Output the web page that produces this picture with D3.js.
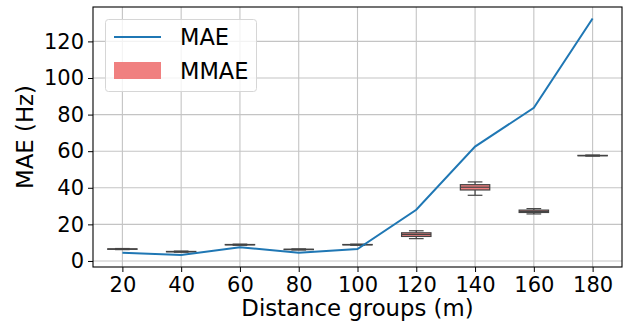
<!DOCTYPE html>
<html>
<head>
<meta charset="utf-8">
<script src="https://cdn.jsdelivr.net/npm/d3@7"></script>
<style>
  body { margin: 0; background: #fff; }
  svg { display: block; font-family: "DejaVu Sans", sans-serif; }
</style>
</head>
<body>
<svg id="chart" width="627" height="327"></svg>
<script>
// data
const groups = ["20", "40", "60", "80", "100", "120", "140", "160", "180"];
const mae = [4.5, 3.3, 7.5, 4.5, 6.5, 28, 62.5, 83.7, 132.5];
// MMAE box stats per group
const whiskLo = [6.2, 4.8, 8.6, 6.0, 8.6, 12.2, 35.9, 25.7, 57.3];
const q1 =      [6.4, 5.0, 8.8, 6.2, 8.8, 13.4, 38.8, 26.5, 57.5];
const median =  [6.5, 5.1, 8.9, 6.3, 8.9, 14.5, 40.3, 27.1, 57.6];
const q3 =      [6.6, 5.2, 9.0, 6.4, 9.0, 15.4, 41.7, 27.8, 57.7];
const whiskHi = [6.8, 5.4, 9.2, 6.6, 9.2, 16.5, 43.2, 28.6, 57.9];
const yTicks = [0, 20, 40, 60, 80, 100, 120];

const width = 627, height = 327;
const margin = { top: 7, right: 5, bottom: 60, left: 93 };

const $svg = d3.select("#chart");

const x = d3.scalePoint()
    .domain(groups)
    .range([margin.left, width - margin.right])
    .padding(0.5);

const y = d3.scaleLinear()
    .domain([-3.3, 138.8])
    .range([height - margin.bottom, margin.top]);

const boxW = x.step() * 0.5;

// Grid
const $grid = $svg.append("g");
$grid.selectAll(".gx")
  .data(groups)
  .join("line")
    .attr("x1", d => x(d)).attr("x2", d => x(d))
    .attr("y1", margin.top).attr("y2", height - margin.bottom)
    .attr("stroke", "#c4c4c4").attr("stroke-width", 1.1);
$grid.selectAll(".gy")
  .data(yTicks)
  .join("line")
    .attr("y1", d => y(d)).attr("y2", d => y(d))
    .attr("x1", margin.left).attr("x2", width - margin.right)
    .attr("stroke", "#c4c4c4").attr("stroke-width", 1.1);

// Boxes
const boxes = groups.map((g, i) => ({
    g, lo: whiskLo[i], q1: q1[i], med: median[i], q3: q3[i], hi: whiskHi[i]
}));
const $box = $svg.append("g").selectAll("g")
  .data(boxes)
  .join("g");

const edge = "#444";
$box.append("line") // lower whisker
    .attr("x1", d => x(d.g)).attr("x2", d => x(d.g))
    .attr("y1", d => y(d.lo)).attr("y2", d => y(d.q1))
    .attr("stroke", edge).attr("stroke-width", 1.2);
$box.append("line") // upper whisker
    .attr("x1", d => x(d.g)).attr("x2", d => x(d.g))
    .attr("y1", d => y(d.hi)).attr("y2", d => y(d.q3))
    .attr("stroke", edge).attr("stroke-width", 1.2);
$box.append("line") // caps
    .attr("x1", d => x(d.g) - boxW / 4).attr("x2", d => x(d.g) + boxW / 4)
    .attr("y1", d => y(d.lo)).attr("y2", d => y(d.lo))
    .attr("stroke", edge).attr("stroke-width", 1.2);
$box.append("line")
    .attr("x1", d => x(d.g) - boxW / 4).attr("x2", d => x(d.g) + boxW / 4)
    .attr("y1", d => y(d.hi)).attr("y2", d => y(d.hi))
    .attr("stroke", edge).attr("stroke-width", 1.2);
$box.append("rect")
    .attr("x", d => x(d.g) - boxW / 2)
    .attr("width", boxW)
    .attr("y", d => y(d.q3))
    .attr("height", d => y(d.q1) - y(d.q3))
    .attr("fill", "#f08080")
    .attr("stroke", edge).attr("stroke-width", 1.2);
$box.append("line") // median
    .attr("x1", d => x(d.g) - boxW / 2).attr("x2", d => x(d.g) + boxW / 2)
    .attr("y1", d => y(d.med)).attr("y2", d => y(d.med))
    .attr("stroke", edge).attr("stroke-width", 1.2);

// MAE line
const line = d3.line()
    .x((d, i) => x(groups[i]))
    .y(d => y(d));
$svg.append("path")
    .datum(mae)
    .attr("d", line)
    .attr("fill", "none")
    .attr("stroke", "#1f77b4")
    .attr("stroke-width", 2);

// Axes
const xAxis = d3.axisBottom(x).tickSize(5).tickPadding(5);
const yAxis = d3.axisLeft(y).tickValues(yTicks).tickSize(5).tickPadding(4);

const $xAxis = $svg.append("g")
    .attr("transform", `translate(0,${height - margin.bottom})`)
    .call(xAxis);
const $yAxis = $svg.append("g")
    .attr("transform", `translate(${margin.left},0)`)
    .call(yAxis);
[$xAxis, $yAxis].forEach($a => {
    $a.select(".domain").remove();
    $a.selectAll("text")
      .attr("font-family", "DejaVu Sans, sans-serif")
      .attr("font-size", 21)
      .attr("fill", "#000");
    $a.selectAll(".tick line").attr("stroke", "#000").attr("stroke-width", 1);
});

// Frame
$svg.append("rect")
    .attr("x", margin.left).attr("y", margin.top)
    .attr("width", width - margin.left - margin.right)
    .attr("height", height - margin.top - margin.bottom)
    .attr("fill", "none")
    .attr("stroke", "#000").attr("stroke-width", 1.1);

// Labels
$svg.append("text")
    .attr("x", (margin.left + width - margin.right) / 2)
    .attr("y", 316)
    .attr("text-anchor", "middle")
    .attr("font-size", 22.8)
    .text("Distance groups (m)");
$svg.append("text")
    .attr("transform", `translate(33,${(margin.top + height - margin.bottom) / 2}) rotate(-90)`)
    .attr("text-anchor", "middle")
    .attr("font-size", 22.8)
    .text("MAE (Hz)");

// Legend
const $leg = $svg.append("g");
$leg.append("rect")
    .attr("x", 105.5).attr("y", 19.5)
    .attr("width", 151).attr("height", 72)
    .attr("rx", 3)
    .attr("fill", "#fff").attr("fill-opacity", 0.8)
    .attr("stroke", "#d6d6d6");
$leg.append("line")
    .attr("x1", 114).attr("x2", 161)
    .attr("y1", 37).attr("y2", 37)
    .attr("stroke", "#1f77b4").attr("stroke-width", 2);
$leg.append("rect")
    .attr("x", 114).attr("y", 62)
    .attr("width", 47).attr("height", 17)
    .attr("fill", "#f08080");
$leg.append("text")
    .attr("x", 180).attr("y", 45)
    .attr("font-size", 22.5)
    .text("MAE");
$leg.append("text")
    .attr("x", 180).attr("y", 79)
    .attr("font-size", 22.5)
    .text("MMAE");
</script>
</body>
</html>
